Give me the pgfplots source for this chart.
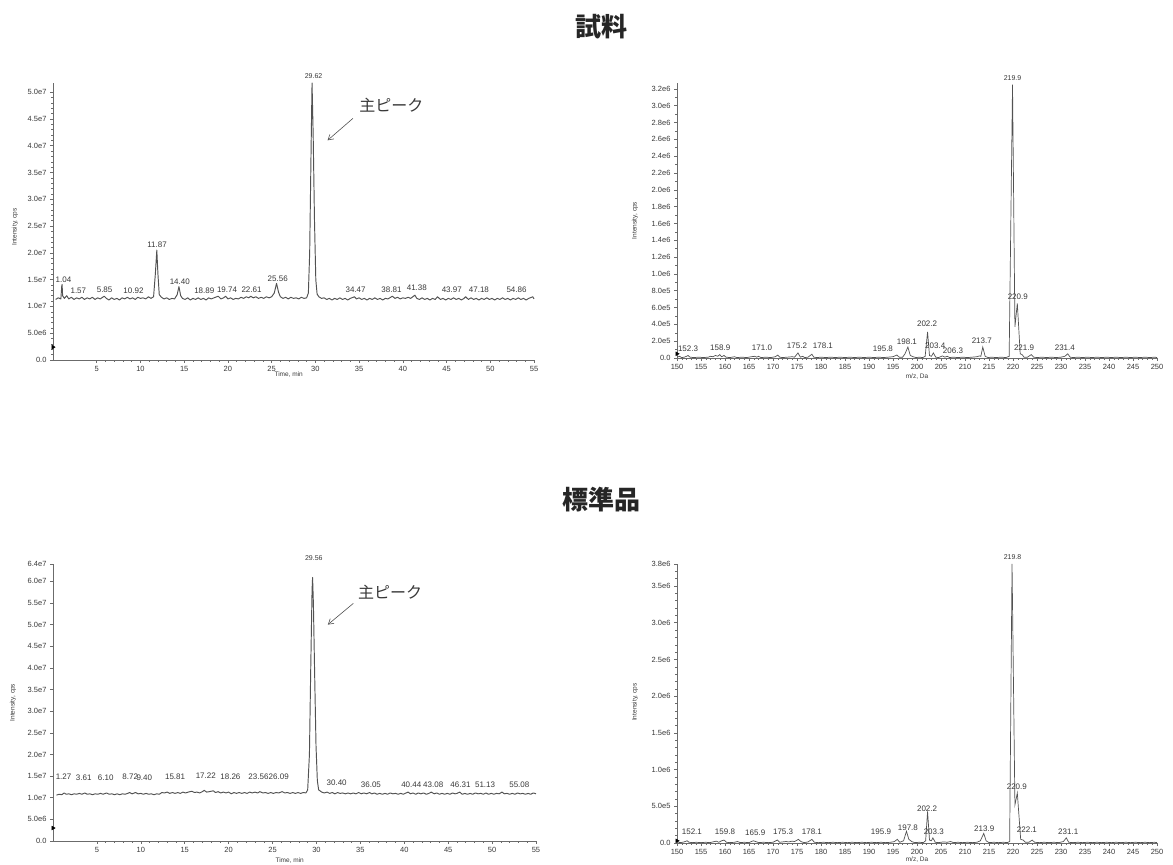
\documentclass[border=0pt]{standalone}
\usepackage{pgfplots}
\pgfplotsset{compat=1.18}
\usetikzlibrary{arrows.meta}
\usepackage{fontspec}
\setmainfont{Liberation Sans}
\newfontfamily\cjk{Noto Sans CJK JP}
\definecolor{ln}{gray}{0.32}
\definecolor{tx}{gray}{0.22}
\definecolor{ax}{gray}{0.42}
\pgfplotsset{
  base/.style={scale only axis, axis lines=left, axis line style={ax,-,line width=0.6pt},
    tick style={ax,line width=0.5pt}, tick align=outside, major tick length=3pt, minor tick length=1.6pt,
    tick label style={font=\fontsize{7.5}{8}\selectfont, text=tx},
    clip=false, /pgf/number format/assume math mode=true},
  chrom/.style={base, xmin=0, xmax=55, xtick={5,10,...,55}, minor x tick num=4},
  ms/.style={base, xmin=150, xmax=250, xtick={150,155,...,250}, minor x tick num=4},
}
\tikzset{
  pl/.style={ln, line width=0.7pt, mark=none},
  cpl/.style={ln, line width=0.95pt, mark=none, line join=round},
  tri/.style={only marks, mark=triangle*, mark size=2.2pt, black, mark options={rotate=-90}},
  lbl/.style={font=\fontsize{8}{9}\selectfont, text=tx, inner sep=0pt},
  slbl/.style={font=\fontsize{7}{8}\selectfont, text=tx, inner sep=0pt},
  albl/.style={font=\fontsize{6.5}{7}\selectfont, text=tx, inner sep=0pt},
  jp/.style={font=\fontsize{16}{18}\selectfont\cjk, text=tx, inner sep=0pt},
}
\begin{document}
\begin{tikzpicture}
\path[use as bounding box] (0,0) rectangle (1173pt,865pt);
\node[font=\fontsize{26}{30}\selectfont\cjk\bfseries, text=black!85] at (601pt,838pt) {試料};
\node[font=\fontsize{26}{30}\selectfont\cjk\bfseries, text=black!85] at (601pt,365pt) {標準品};

% ---------------- top left chromatogram ----------------
\begin{axis}[chrom, at={(53pt,505pt)}, anchor=south west, width=481pt, height=277pt,
  ymin=0, ymax=51.7, ytick={0,5,...,50}, minor y tick num=4,
  yticklabels={0.0,5.0e6,1.0e7,1.5e7,2.0e7,2.5e7,3.0e7,3.5e7,4.0e7,4.5e7,5.0e7}]
\addplot[cpl] coordinates {
(0.3,11.3)(0.6,11.6)(0.9,11.4)(1.0,13.8)(1.04,14.1)(1.1,12.0)(1.3,11.5)(1.57,12.0)(1.8,11.4)(2.1,11.7)
(2.4,11.3)(2.7,11.6)(3.0,11.4)(3.3,11.7)(3.6,11.3)(3.9,11.6)(4.2,11.4)(4.5,11.7)(4.8,11.3)(5.1,11.6)
(5.4,11.4)(5.85,11.9)(6.1,11.5)(6.4,11.2)(6.7,11.6)(7.0,11.3)(7.3,11.5)(7.6,11.2)(7.9,11.6)(8.2,11.4)
(8.5,11.7)(8.8,11.4)(9.1,11.6)(9.4,11.3)(9.7,11.7)(10.0,11.5)(10.3,11.6)(10.6,11.4)(10.92,11.8)(11.2,11.5)
(11.5,11.8)(11.7,16)(11.87,20.5)(12.0,16)(12.15,12.2)(12.4,11.7)(12.7,11.4)(13.0,11.6)(13.3,11.3)(13.6,11.5)
(13.9,11.4)(14.2,12.2)(14.40,13.7)(14.6,12.0)(14.8,11.5)(15.1,11.3)(15.4,11.6)(15.7,11.2)(16.0,11.5)(16.3,11.3)
(16.6,11.6)(16.9,11.3)(17.2,11.5)(17.5,11.2)(17.8,11.6)(18.1,11.4)(18.4,11.6)(18.89,11.9)(19.2,11.4)(19.5,11.6)
(19.74,11.9)(20.0,11.4)(20.3,11.6)(20.6,11.3)(20.9,11.5)(21.2,11.4)(21.5,11.7)(21.8,11.5)(22.1,11.8)(22.4,11.6)
(22.61,11.9)(22.9,11.6)(23.2,11.8)(23.5,11.5)(23.8,11.7)(24.1,11.5)(24.4,11.8)(24.7,11.6)(25.0,11.8)(25.3,12.5)
(25.56,14.3)(25.8,12.6)(26.0,11.8)(26.3,11.5)(26.6,11.7)(26.9,11.4)(27.2,11.7)(27.5,11.5)(27.8,11.6)(28.1,11.4)
(28.4,11.7)(28.7,11.5)(29.0,11.6)(29.2,12.5)(29.35,20)(29.5,38)(29.62,51.7)(29.75,42)(29.9,26)(30.05,15)
(30.2,12.3)(30.4,11.8)(30.7,11.5)(31.0,11.6)(31.3,11.3)(31.6,11.5)(31.9,11.2)(32.2,11.5)(32.5,11.3)(32.8,11.6)
(33.1,11.3)(33.4,11.5)(33.7,11.2)(34.0,11.5)(34.47,11.8)(34.7,11.4)(35.0,11.6)(35.3,11.3)(35.6,11.5)(35.9,11.2)
(36.2,11.5)(36.5,11.3)(36.8,11.6)(37.1,11.3)(37.4,11.5)(37.7,11.2)(38.0,11.5)(38.3,11.4)(38.81,11.9)(39.1,11.5)
(39.4,11.7)(39.7,11.4)(40.0,11.6)(40.3,11.5)(40.6,11.7)(40.9,11.5)(41.38,12.1)(41.6,11.5)(41.9,11.3)(42.2,11.6)
(42.5,11.3)(42.8,11.5)(43.1,11.2)(43.4,11.5)(43.7,11.3)(43.97,11.8)(44.3,11.3)(44.6,11.5)(44.9,11.2)(45.2,11.5)
(45.5,11.3)(45.8,11.6)(46.1,11.3)(46.4,11.5)(46.7,11.2)(47.0,11.5)(47.18,11.8)(47.5,11.3)(47.8,11.6)(48.1,11.3)
(48.4,11.5)(48.7,11.2)(49.0,11.5)(49.3,11.3)(49.6,11.6)(49.9,11.3)(50.2,11.5)(50.5,11.2)(50.8,11.5)(51.1,11.3)
(51.4,11.6)(51.7,11.3)(52.0,11.5)(52.3,11.2)(52.6,11.5)(52.9,11.3)(53.2,11.6)(53.5,11.3)(53.8,11.5)(54.1,11.2)
(54.4,11.5)(54.86,11.8)(55.0,11.4)};
\addplot[tri] coordinates {(0,2.4)};
\node[lbl] at (axis cs:1.2,14.9) {1.04};
\node[lbl] at (axis cs:2.9,12.9) {1.57};
\node[lbl] at (axis cs:5.9,13.1) {5.85};
\node[lbl] at (axis cs:9.2,12.9) {10.92};
\node[lbl] at (axis cs:11.9,21.6) {11.87};
\node[lbl] at (axis cs:14.5,14.6) {14.40};
\node[lbl] at (axis cs:17.3,12.9) {18.89};
\node[lbl] at (axis cs:19.9,13.2) {19.74};
\node[lbl] at (axis cs:22.7,13.1) {22.61};
\node[lbl] at (axis cs:25.7,15.1) {25.56};
\node[slbl] at (axis cs:29.8,52.9) {29.62};
\node[lbl] at (axis cs:34.6,13.1) {34.47};
\node[lbl] at (axis cs:38.7,13.1) {38.81};
\node[lbl] at (axis cs:41.6,13.4) {41.38};
\node[lbl] at (axis cs:45.6,13.1) {43.97};
\node[lbl] at (axis cs:48.7,13.1) {47.18};
\node[lbl] at (axis cs:53.0,13.1) {54.86};
\node[jp] at (axis cs:38.7,47.6) {主ピーク};
\draw[ln, line width=0.6pt, -{Straight Barb[length=5pt,width=6pt]}] (axis cs:34.3,45.1) -- (axis cs:31.4,41.0);
\node[albl, rotate=90] at (rel axis cs:-0.079,0.48) {Intensity, cps};
\node[albl] at (rel axis cs:0.49,-0.054) {Time, min};
\end{axis}

% ---------------- top right spectrum ----------------
\begin{axis}[ms, at={(677pt,507pt)}, anchor=south west, width=480pt, height=275pt,
  ymin=0, ymax=3.27, ytick={0,0.2,...,3.2}, minor y tick num=1,
  yticklabels={0.0,2.0e5,4.0e5,6.0e5,8.0e5,1.0e6,1.2e6,1.4e6,1.6e6,1.8e6,2.0e6,2.2e6,2.4e6,2.6e6,2.8e6,3.0e6,3.2e6}]
\addplot[pl] coordinates {
(150,0.01)(150.5,0.02)(151,0.005)(151.5,0.01)(152,0.02)(152.3,0.03)(152.7,0.01)(153.5,0.005)(154.5,0.01)(155.5,0.005)
(156.5,0.01)(157,0.02)(157.5,0.015)(158,0.03)(158.5,0.02)(158.9,0.04)(159.3,0.015)(159.8,0.03)(160.2,0.01)(161,0.005)
(162,0.015)(162.5,0.005)(163.5,0.01)(164.5,0.005)(165.5,0.015)(166.2,0.02)(166.6,0.01)(167,0.02)(167.5,0.005)(168.5,0.01)
(169.5,0.005)(170.5,0.015)(171.0,0.035)(171.4,0.01)(172,0.005)(173,0.01)(174,0.015)(174.5,0.01)(175.2,0.06)(175.7,0.01)
(176.2,0.02)(176.6,0.005)(177.3,0.01)(178.1,0.045)(178.5,0.01)(179.2,0.005)(180,0.01)(181,0.005)(182,0.01)(183,0.005)
(184,0.01)(185,0.005)(186,0.01)(187,0.005)(188,0.01)(189,0.005)(190,0.01)(191,0.005)(192,0.01)(193,0.005)
(194,0.01)(195,0.015)(195.8,0.035)(196.3,0.01)(197,0.01)(197.5,0.05)(198.1,0.13)(198.6,0.03)(199.2,0.015)(199.8,0.005)
(200.5,0.01)(201.2,0.005)(201.7,0.02)(202.2,0.31)(202.6,0.03)(203.0,0.02)(203.4,0.06)(203.9,0.01)(204.5,0.005)(205.3,0.025)
(205.8,0.01)(206.3,0.02)(206.8,0.005)(207.5,0.01)(208.5,0.005)(209.5,0.01)(210.5,0.005)(211.5,0.01)(212.5,0.015)(213.0,0.025)
(213.3,0.02)(213.7,0.13)(214.2,0.02)(214.8,0.005)(215.5,0.01)(216.5,0.005)(217.5,0.01)(218.5,0.005)(219.2,0.02)(219.9,3.25)
(220.4,0.37)(220.9,0.65)(221.5,0.05)(221.9,0.04)(222.3,0.01)(223.0,0.01)(223.8,0.04)(224.3,0.01)(225,0.005)(226,0.01)
(227,0.005)(228,0.01)(229,0.005)(230,0.01)(230.8,0.02)(231.4,0.05)(231.9,0.01)(232.5,0.005)(233.5,0.01)(234.5,0.005)
(235.5,0.01)(236.5,0.005)(237.5,0.01)(238.5,0.005)(239.5,0.01)(240.5,0.005)(241.5,0.01)(242.5,0.005)(243.5,0.01)(244.5,0.005)
(245.5,0.01)(246.5,0.005)(247.5,0.01)(248.5,0.005)(249.5,0.01)(250,0.005)};
\addplot[tri] coordinates {(150,0.05)};
\node[lbl] at (axis cs:152.3,0.107) {152.3};
\node[lbl] at (axis cs:159.0,0.12) {158.9};
\node[lbl] at (axis cs:167.7,0.12) {171.0};
\node[lbl] at (axis cs:175.0,0.143) {175.2};
\node[lbl] at (axis cs:180.4,0.143) {178.1};
\node[lbl] at (axis cs:192.9,0.107) {195.8};
\node[lbl] at (axis cs:197.9,0.19) {198.1};
\node[lbl] at (axis cs:202.1,0.405) {202.2};
\node[lbl] at (axis cs:203.8,0.143) {203.4};
\node[lbl] at (axis cs:207.5,0.083) {206.3};
\node[lbl] at (axis cs:213.5,0.2) {213.7};
\node[lbl] at (axis cs:221.0,0.726) {220.9};
\node[lbl] at (axis cs:222.3,0.12) {221.9};
\node[lbl] at (axis cs:230.8,0.12) {231.4};
\node[slbl] at (axis cs:219.9,3.33) {219.9};
\node[albl, rotate=90] at (rel axis cs:-0.0875,0.5) {Intensity, cps};
\node[albl] at (rel axis cs:0.5,-0.069) {m/z, Da};
\end{axis}

% ---------------- bottom left chromatogram ----------------
\begin{axis}[chrom, at={(53pt,24pt)}, anchor=south west, width=483pt, height=277pt,
  ymin=0, ymax=64, ytick={0,5,...,60,64}, minor y tick num=4,
  yticklabels={0.0,5.0e6,1.0e7,1.5e7,2.0e7,2.5e7,3.0e7,3.5e7,4.0e7,4.5e7,5.0e7,5.5e7,6.0e7,6.4e7}]
\addplot[cpl] coordinates {
(0.4,10.6)(0.7,10.8)(1.0,10.7)(1.27,11.1)(1.5,10.8)(1.8,10.9)(2.1,10.7)(2.4,10.9)(2.7,10.8)(3.0,11.0)
(3.3,10.8)(3.61,11.1)(3.9,10.8)(4.2,10.9)(4.5,10.7)(4.8,10.9)(5.1,10.8)(5.4,11.0)(5.7,10.8)(6.1,11.1)
(6.4,10.8)(6.7,10.9)(7.0,10.7)(7.3,10.9)(7.6,10.7)(7.9,10.9)(8.2,10.8)(8.5,11.0)(8.72,11.2)(9.0,10.9)
(9.4,11.2)(9.7,10.9)(10.0,11.0)(10.3,10.8)(10.6,11.0)(10.9,10.8)(11.2,10.9)(11.5,10.7)(11.8,10.9)(12.1,10.8)
(12.4,11.2)(12.7,11.1)(13.0,11.3)(13.3,11.0)(13.6,11.2)(13.9,11.0)(14.2,11.2)(14.5,11.0)(14.8,11.3)(15.1,11.1)
(15.4,11.3)(15.81,11.5)(16.1,11.2)(16.4,11.3)(16.7,11.1)(17.0,11.4)(17.22,11.7)(17.5,11.3)(17.8,11.4)(18.26,11.6)
(18.5,11.2)(18.8,11.4)(19.1,11.1)(19.4,11.3)(19.7,11.1)(20.0,11.3)(20.3,10.9)(20.6,11.2)(20.9,11.0)(21.2,11.2)
(21.5,11.0)(21.8,11.2)(22.1,11.0)(22.4,11.3)(22.7,11.1)(23.0,11.3)(23.3,11.1)(23.56,11.4)(23.9,11.1)(24.2,11.2)
(24.5,11.0)(24.8,11.2)(25.1,11.0)(25.4,11.2)(25.7,11.1)(26.09,11.4)(26.4,11.1)(26.7,11.2)(27.0,11.0)(27.3,11.2)
(27.6,11.0)(27.9,11.2)(28.2,11.0)(28.5,11.2)(28.8,11.1)(29.0,11.8)(29.2,20)(29.35,40)(29.5,58)(29.56,60.9)
(29.65,55)(29.8,38)(29.95,22)(30.1,14)(30.25,11.8)(30.40,11.6)(30.6,11.3)(30.9,11.1)(31.2,11.3)(31.5,11.0)
(31.8,11.2)(32.1,10.9)(32.4,11.2)(32.7,11.0)(33.0,11.1)(33.3,10.9)(33.6,11.1)(33.9,10.9)(34.2,11.1)(34.5,10.9)
(34.8,11.2)(35.1,10.9)(35.4,11.1)(35.7,10.9)(36.05,11.2)(36.3,10.9)(36.6,11.1)(36.9,10.8)(37.2,11.0)(37.5,10.8)
(37.8,11.0)(38.1,10.8)(38.4,11.1)(38.7,10.9)(39.0,11.0)(39.3,10.8)(39.6,11.0)(39.9,10.8)(40.2,11.1)(40.44,11.3)
(40.7,10.9)(41.0,11.1)(41.3,10.8)(41.6,11.1)(41.9,10.9)(42.2,11.1)(42.5,10.8)(42.8,11.0)(43.08,11.3)(43.4,10.9)
(43.7,11.1)(44.0,10.8)(44.3,11.0)(44.6,10.8)(44.9,11.0)(45.2,10.8)(45.5,11.1)(45.8,10.9)(46.0,11.0)(46.31,11.3)
(46.6,10.8)(46.9,11.0)(47.2,10.8)(47.5,11.0)(47.8,10.8)(48.1,11.1)(48.4,10.9)(48.7,11.0)(49.0,10.8)(49.3,11.1)
(49.6,10.8)(49.9,11.0)(50.2,10.8)(50.5,11.0)(50.8,10.9)(51.13,11.3)(51.4,10.9)(51.7,11.0)(52.0,10.8)(52.3,11.0)
(52.6,10.8)(52.9,11.1)(53.2,10.9)(53.5,11.0)(53.8,10.8)(54.1,11.0)(54.4,10.8)(54.7,11.1)(55.0,10.9)};
\addplot[tri] coordinates {(0,3.0)};
\node[lbl] at (axis cs:1.2,14.8) {1.27};
\node[lbl] at (axis cs:3.5,14.6) {3.61};
\node[lbl] at (axis cs:6.0,14.6) {6.10};
\node[lbl] at (axis cs:8.8,14.8) {8.72};
\node[lbl] at (axis cs:10.4,14.6) {9.40};
\node[lbl] at (axis cs:13.9,14.8) {15.81};
\node[lbl] at (axis cs:17.4,15.0) {17.22};
\node[lbl] at (axis cs:20.2,14.9) {18.26};
\node[lbl] at (axis cs:23.4,14.8) {23.56};
\node[lbl] at (axis cs:25.7,14.8) {26.09};
\node[slbl] at (axis cs:29.7,65.3) {29.56};
\node[lbl] at (axis cs:32.3,13.4) {30.40};
\node[lbl] at (axis cs:36.2,13.0) {36.05};
\node[lbl] at (axis cs:40.8,13.0) {40.44};
\node[lbl] at (axis cs:43.3,13.0) {43.08};
\node[lbl] at (axis cs:46.4,13.0) {46.31};
\node[lbl] at (axis cs:49.2,13.0) {51.13};
\node[lbl] at (axis cs:53.1,13.0) {55.08};
\node[jp] at (axis cs:38.4,57.6) {主ピーク};
\draw[ln, line width=0.6pt, -{Straight Barb[length=5pt,width=6pt]}] (axis cs:34.2,54.9) -- (axis cs:31.3,50.0);
\node[albl, rotate=90] at (rel axis cs:-0.083,0.5) {Intensity, cps};
\node[albl] at (rel axis cs:0.49,-0.069) {Time, min};
\end{axis}

% ---------------- bottom right spectrum ----------------
\begin{axis}[ms, at={(677pt,22pt)}, anchor=south west, width=480pt, height=279pt,
  ymin=0, ymax=3.8, ytick={0,0.5,...,3.5,3.8}, minor ytick={0.1,0.2,...,3.7},
  yticklabels={0.0,5.0e5,1.0e6,1.5e6,2.0e6,2.5e6,3.0e6,3.5e6,3.8e6}]
\addplot[pl] coordinates {
(150,0.02)(150.6,0.005)(151.2,0.01)(151.7,0.02)(152.1,0.03)(152.5,0.01)(153.3,0.005)(154,0.01)(155,0.005)(156,0.01)
(156.8,0.005)(157.5,0.015)(158.2,0.025)(158.7,0.01)(159.3,0.03)(159.8,0.04)(160.3,0.01)(161,0.005)(162,0.01)(162.6,0.02)
(163.2,0.005)(164,0.01)(165,0.005)(165.5,0.02)(165.9,0.03)(166.4,0.02)(167,0.005)(168,0.01)(169,0.005)(170,0.01)
(170.9,0.04)(171.4,0.01)(172,0.015)(172.7,0.02)(173.3,0.015)(174,0.025)(174.5,0.02)(175.3,0.05)(175.8,0.02)(176.5,0.005)
(177.3,0.015)(178.1,0.05)(178.6,0.01)(179.5,0.005)(180.5,0.01)(181.5,0.005)(182.5,0.01)(183.5,0.005)(184.5,0.01)(185.5,0.005)
(186.5,0.01)(187.5,0.005)(188.5,0.01)(189.5,0.005)(190.5,0.01)(191.5,0.005)(192.5,0.01)(193.5,0.005)(194.5,0.01)(195.3,0.02)
(195.9,0.05)(196.4,0.01)(197.2,0.03)(197.8,0.16)(198.3,0.05)(198.9,0.02)(199.5,0.005)(200.5,0.01)(201.3,0.005)(201.8,0.03)
(202.2,0.43)(202.6,0.04)(203,0.03)(203.3,0.07)(203.8,0.01)(204.5,0.005)(205.5,0.015)(206.3,0.01)(207,0.02)(207.6,0.005)
(208.5,0.01)(209.5,0.005)(210.5,0.01)(211.5,0.005)(212.5,0.01)(213.2,0.03)(213.9,0.13)(214.4,0.03)(215,0.005)(216,0.01)
(217,0.005)(218,0.01)(218.8,0.005)(219.3,0.02)(219.8,3.8)(220.4,0.52)(220.9,0.68)(221.6,0.05)(222.1,0.04)(222.6,0.01)
(223.3,0.01)(224,0.04)(224.5,0.01)(225.5,0.005)(226.5,0.01)(227.5,0.005)(228.5,0.01)(229.5,0.005)(230.5,0.02)(231.1,0.07)
(231.6,0.01)(232.5,0.005)(233.5,0.01)(234.5,0.005)(235.5,0.01)(236.5,0.005)(237.5,0.01)(238.5,0.005)(239.5,0.01)(240.5,0.005)
(241.5,0.01)(242.5,0.005)(243.5,0.01)(244.5,0.005)(245.5,0.01)(246.5,0.005)(247.5,0.01)(248.5,0.005)(249.5,0.01)(250,0.005)};
\addplot[tri] coordinates {(150,0.03)};
\node[lbl] at (axis cs:153.1,0.16) {152.1};
\node[lbl] at (axis cs:160.0,0.15) {159.8};
\node[lbl] at (axis cs:166.3,0.135) {165.9};
\node[lbl] at (axis cs:172.1,0.16) {175.3};
\node[lbl] at (axis cs:178.1,0.16) {178.1};
\node[lbl] at (axis cs:192.5,0.15) {195.9};
\node[lbl] at (axis cs:198.1,0.21) {197.8};
\node[lbl] at (axis cs:202.1,0.47) {202.2};
\node[lbl] at (axis cs:203.5,0.16) {203.3};
\node[lbl] at (axis cs:214.0,0.2) {213.9};
\node[lbl] at (axis cs:220.8,0.77) {220.9};
\node[lbl] at (axis cs:222.9,0.175) {222.1};
\node[lbl] at (axis cs:231.5,0.16) {231.1};
\node[slbl] at (axis cs:219.9,3.9) {219.8};
\node[albl, rotate=90] at (rel axis cs:-0.0875,0.505) {Intensity, cps};
\node[albl] at (rel axis cs:0.5,-0.058) {m/z, Da};
\end{axis}
\end{tikzpicture}
\end{document}
